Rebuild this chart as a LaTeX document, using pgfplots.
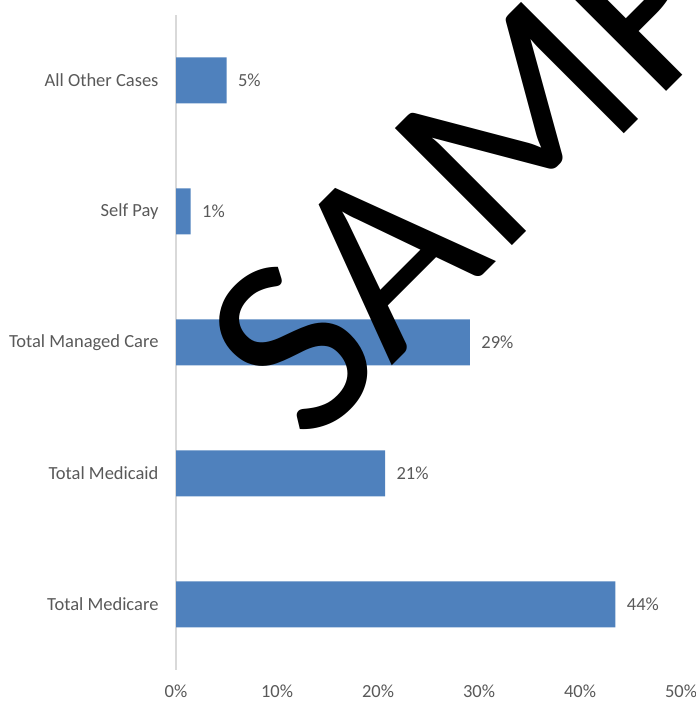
\documentclass[border=0pt]{standalone}
\usepackage{fontspec}
\setmainfont{Carlito}
\usepackage{pgfplots}
\usepackage{pgfplotstable}
\pgfplotsset{compat=1.18}
\definecolor{barblue}{HTML}{4F81BD}
\definecolor{txtgray}{HTML}{595959}
\definecolor{axgray}{HTML}{D9D9D9}
\pgfplotstableread{
c v l
0 43.5 44
1 20.7 21
2 29.1 29
3 1.45 1
4 5.0 5
}\datatab
\begin{document}
\begin{tikzpicture}[x=1bp,y=1bp]
\begin{axis}[
  at={(176bp,34bp)}, anchor=south west,
  scale only axis, width=505bp, height=655bp,
  xbar, bar width=46bp,
  xmin=0, xmax=50, ymin=-0.5, ymax=4.5,
  axis x line=bottom, axis y line=left,
  x axis line style={draw=none},
  y axis line style={draw=axgray, line width=1.2bp, -},
  major tick length=0,
  xtick={0,10,...,50},
  xticklabel={\pgfmathprintnumber{\tick}\%},
  ytick={0,1,2,3,4},
  yticklabels={Total Medicare, Total Medicaid, Total Managed Care, Self Pay, All Other Cases},
  /pgf/number format/assume math mode=true,
  tick label style={font=\fontsize{18.5bp}{22bp}\selectfont, text=txtgray},
  xticklabel style={yshift=-11bp},
  yticklabel style={xshift=-14bp},
  point meta=explicit symbolic,
  nodes near coords={\pgfplotspointmeta\%},
  nodes near coords style={font=\fontsize{18.5bp}{22bp}\selectfont, text=txtgray, anchor=west, xshift=8bp},
  clip=false,
]
\addplot[draw=none, fill=barblue] table[x=v, y=c, meta=l] {\datatab};
\end{axis}
\begin{scope}
\clip (0,0) rectangle (696,704);
\node[rotate=45, anchor=base west, inner sep=0, font=\fontsize{258bp}{300bp}\selectfont] at (309,255) {SAMPLE};
\end{scope}
\pgfresetboundingbox
\path[use as bounding box] (0,0) rectangle (696,704);
\end{tikzpicture}
\end{document}
